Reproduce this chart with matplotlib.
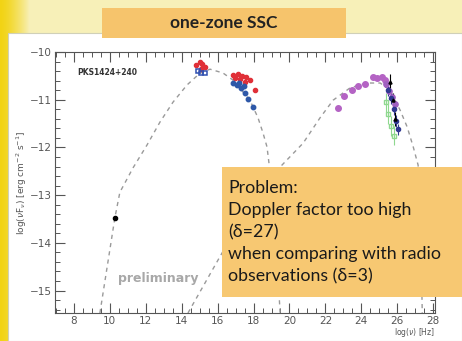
import numpy as np
import matplotlib
matplotlib.use("Agg")
import matplotlib.pyplot as plt
from matplotlib.patches import Rectangle
from matplotlib.ticker import MultipleLocator

# model curves: log(nu) [Hz], log(nuFnu)
sync_x = [9.45, 10.28, 10.56, 11.29, 12.07, 12.79, 13.52, 14.30, 15.0, 15.58,
          16.30, 16.86, 17.80, 18.25, 18.53, 18.75, 18.86, 19.10, 19.30, 19.48]
sync_y = [-15.47, -13.48, -12.94, -12.43, -11.95, -11.47, -11.05, -10.69, -10.45, -10.36,
          -10.44, -10.59, -11.01, -11.38, -11.70, -11.99, -12.33, -13.20, -14.30, -15.47]
ic_x = [14.35, 16.25, 17.9, 19.48, 20.76, 21.70, 22.43, 23.38, 24.32, 25.05,
        25.60, 26.16, 26.55, 26.89, 27.16, 27.30, 27.39]
ic_y = [-15.47, -14.21, -13.2, -12.41, -11.91, -11.38, -11.01, -10.75, -10.65, -10.65,
        -10.80, -11.22, -11.57, -11.99, -12.37, -13.5, -15.47]

# data points
radio_x = [10.28]
radio_y = [-13.48]
opt_red_x = [14.8, 15.0, 15.15, 15.3, 15.05]
opt_red_y = [-10.28, -10.22, -10.25, -10.32, -10.35]
opt_blue_x = [14.9, 15.1, 15.3]
opt_blue_y = [-10.40, -10.44, -10.45]
xr_red_x = [16.86, 17.14, 17.36, 17.58, 17.80, 18.08, 16.95, 17.25, 17.5]
xr_red_y = [-10.48, -10.46, -10.50, -10.53, -10.58, -10.80, -10.55, -10.57, -10.62]
xr_blue_x = [16.86, 17.08, 17.30, 17.53, 17.69, 17.97, 17.2, 17.45]
xr_blue_y = [-10.64, -10.70, -10.76, -10.85, -10.98, -11.15, -10.66, -10.72]
lat_x = [22.71, 23.04, 23.49, 23.82, 24.21, 24.66, 24.88, 25.16, 25.33]
lat_y = [-11.17, -10.92, -10.80, -10.71, -10.67, -10.52, -10.55, -10.52, -10.59]
vhe_purple_x = [25.40, 25.55, 25.70, 25.85]
vhe_purple_y = [-10.68, -10.82, -10.95, -11.10]
vhe_navy_x = [25.50, 25.65, 25.80, 25.95, 26.05]
vhe_navy_y = [-10.80, -10.97, -11.20, -11.45, -11.62]
vhe_green_x = [25.35, 25.50, 25.65, 25.80]
vhe_green_y = [-11.05, -11.30, -11.55, -11.75]
vhe_black_x = [25.60, 25.75, 25.90]
vhe_black_y = [-10.62, -11.00, -11.40]

problem_lines = ["Problem:", "Doppler factor too high", "(\u03b4=27)",
                 "when comparing with radio", "observations (\u03b4=3)"]

W, H = 462, 341
fig = plt.figure(figsize=(W / 100, H / 100), dpi=100, facecolor="#f7f0b8")

# slide background: yellow strip on the left, white panel
bg = fig.add_axes([0, 0, 1, 1], zorder=0)
bg.set_xlim(0, W); bg.set_ylim(H, 0); bg.axis("off")
grad = np.linspace(0, 1, 40)[None, :] ** 1.5
c0 = np.array([0.95, 0.83, 0.08]); c1 = np.array([0.97, 0.94, 0.72])
img = c0[None, None, :] * (1 - grad[..., None]) + c1[None, None, :] * grad[..., None]
bg.imshow(img, extent=[0, 30, H, 0], aspect="auto", zorder=0)
bg.set_xlim(0, W); bg.set_ylim(H, 0)
bg.add_patch(Rectangle((8, 33), W - 8, H - 33, facecolor="white",
                       edgecolor="#d0d0b8", lw=0.8, zorder=1))

ax = fig.add_axes([55 / W, 1 - 313 / H, (435 - 55) / W, (313 - 52) / H], zorder=1)
ax.plot(sync_x, sync_y, ls=(0, (3, 3)), color="#9a9a9a", lw=1.0)
ax.plot(ic_x, ic_y, ls=(0, (3, 3)), color="#9a9a9a", lw=1.0)
ax.errorbar(radio_x, radio_y, yerr=0.05, fmt="o", color="black", ms=3)
ax.plot(opt_red_x, opt_red_y, "o", color="#e03038", ms=3)
ax.plot(opt_blue_x, opt_blue_y, "s", color="#3050b0", ms=2.8, mfc="none", mew=1.1)
ax.plot(xr_red_x, xr_red_y, "o", color="#e03038", ms=3)
ax.plot(xr_blue_x, xr_blue_y, "o", color="#2e58a8", ms=3.2)
ax.errorbar(lat_x, lat_y, yerr=0.04, fmt="o", color="#b463c4", ms=4)
ax.errorbar(vhe_green_x, vhe_green_y, yerr=0.2, fmt="s", color="#8fd88f",
            mfc="none", ms=3, lw=0.8)
ax.errorbar(vhe_purple_x, vhe_purple_y, yerr=0.08, fmt="o", color="#a060c0", ms=3.8)
ax.errorbar(vhe_navy_x, vhe_navy_y, yerr=0.12, fmt="o", color="#303890", ms=3, lw=0.8)
ax.errorbar(vhe_black_x, vhe_black_y, yerr=0.15, fmt="^", color="black", ms=2.2, lw=0.8)

ax.set_xlim(6.95, 28.1)
ax.set_ylim(-15.47, -10)
ax.xaxis.set_major_locator(MultipleLocator(2))
ax.xaxis.set_minor_locator(MultipleLocator(0.5))
ax.yaxis.set_major_locator(MultipleLocator(1))
ax.yaxis.set_minor_locator(MultipleLocator(0.2))
ax.tick_params(which="both", direction="in", top=True, right=True,
               colors="#555555", labelsize=7.5, labelcolor="#555555", pad=2)
ax.tick_params(which="major", length=7, width=0.8)
ax.tick_params(which="minor", length=3.5, width=0.7)
for s in ax.spines.values():
    s.set_color("#555555"); s.set_linewidth(0.8)
ax.set_ylabel(r"log($\nu$F$_\nu$) [erg cm$^{-2}$ s$^{-1}$]", fontsize=6.5,
              color="#555555")
ax.yaxis.set_label_coords(-0.068, 0.5)
ax.set_xlabel(r"log($\nu$) [Hz]", fontsize=5.5, color="#555555", loc="right", labelpad=0.5)
ax.text(8.2, -10.42, "PKS1424+240", fontsize=5.5, fontweight="bold", color="#333333",
        va="center")
ax.text(10.45, -14.74, "preliminary", fontsize=9, fontweight="bold", color="#a8a8a8",
        va="center")

# overlay boxes of the slide
ov = fig.add_axes([0, 0, 1, 1], zorder=2)
ov.set_xlim(0, W); ov.set_ylim(H, 0); ov.axis("off")
ov.patch.set_alpha(0)
ov.add_patch(Rectangle((102, 8), 244, 30, color="#f6c46c", lw=0))
ov.text(224, 23, "one-zone SSC", fontsize=12.5, family="Lato", fontweight="bold",
        color="#222222", ha="center", va="center")
ov.add_patch(Rectangle((222, 167), W - 222, 130, color="#f7c872", lw=0))
for i, line in enumerate(problem_lines):
    ov.text(228, 188 + 22 * i, line, fontsize=12.8, family="Lato", color="#1a1a1a",
            va="center")

fig.savefig("out.png", dpi=100, facecolor=fig.get_facecolor())
